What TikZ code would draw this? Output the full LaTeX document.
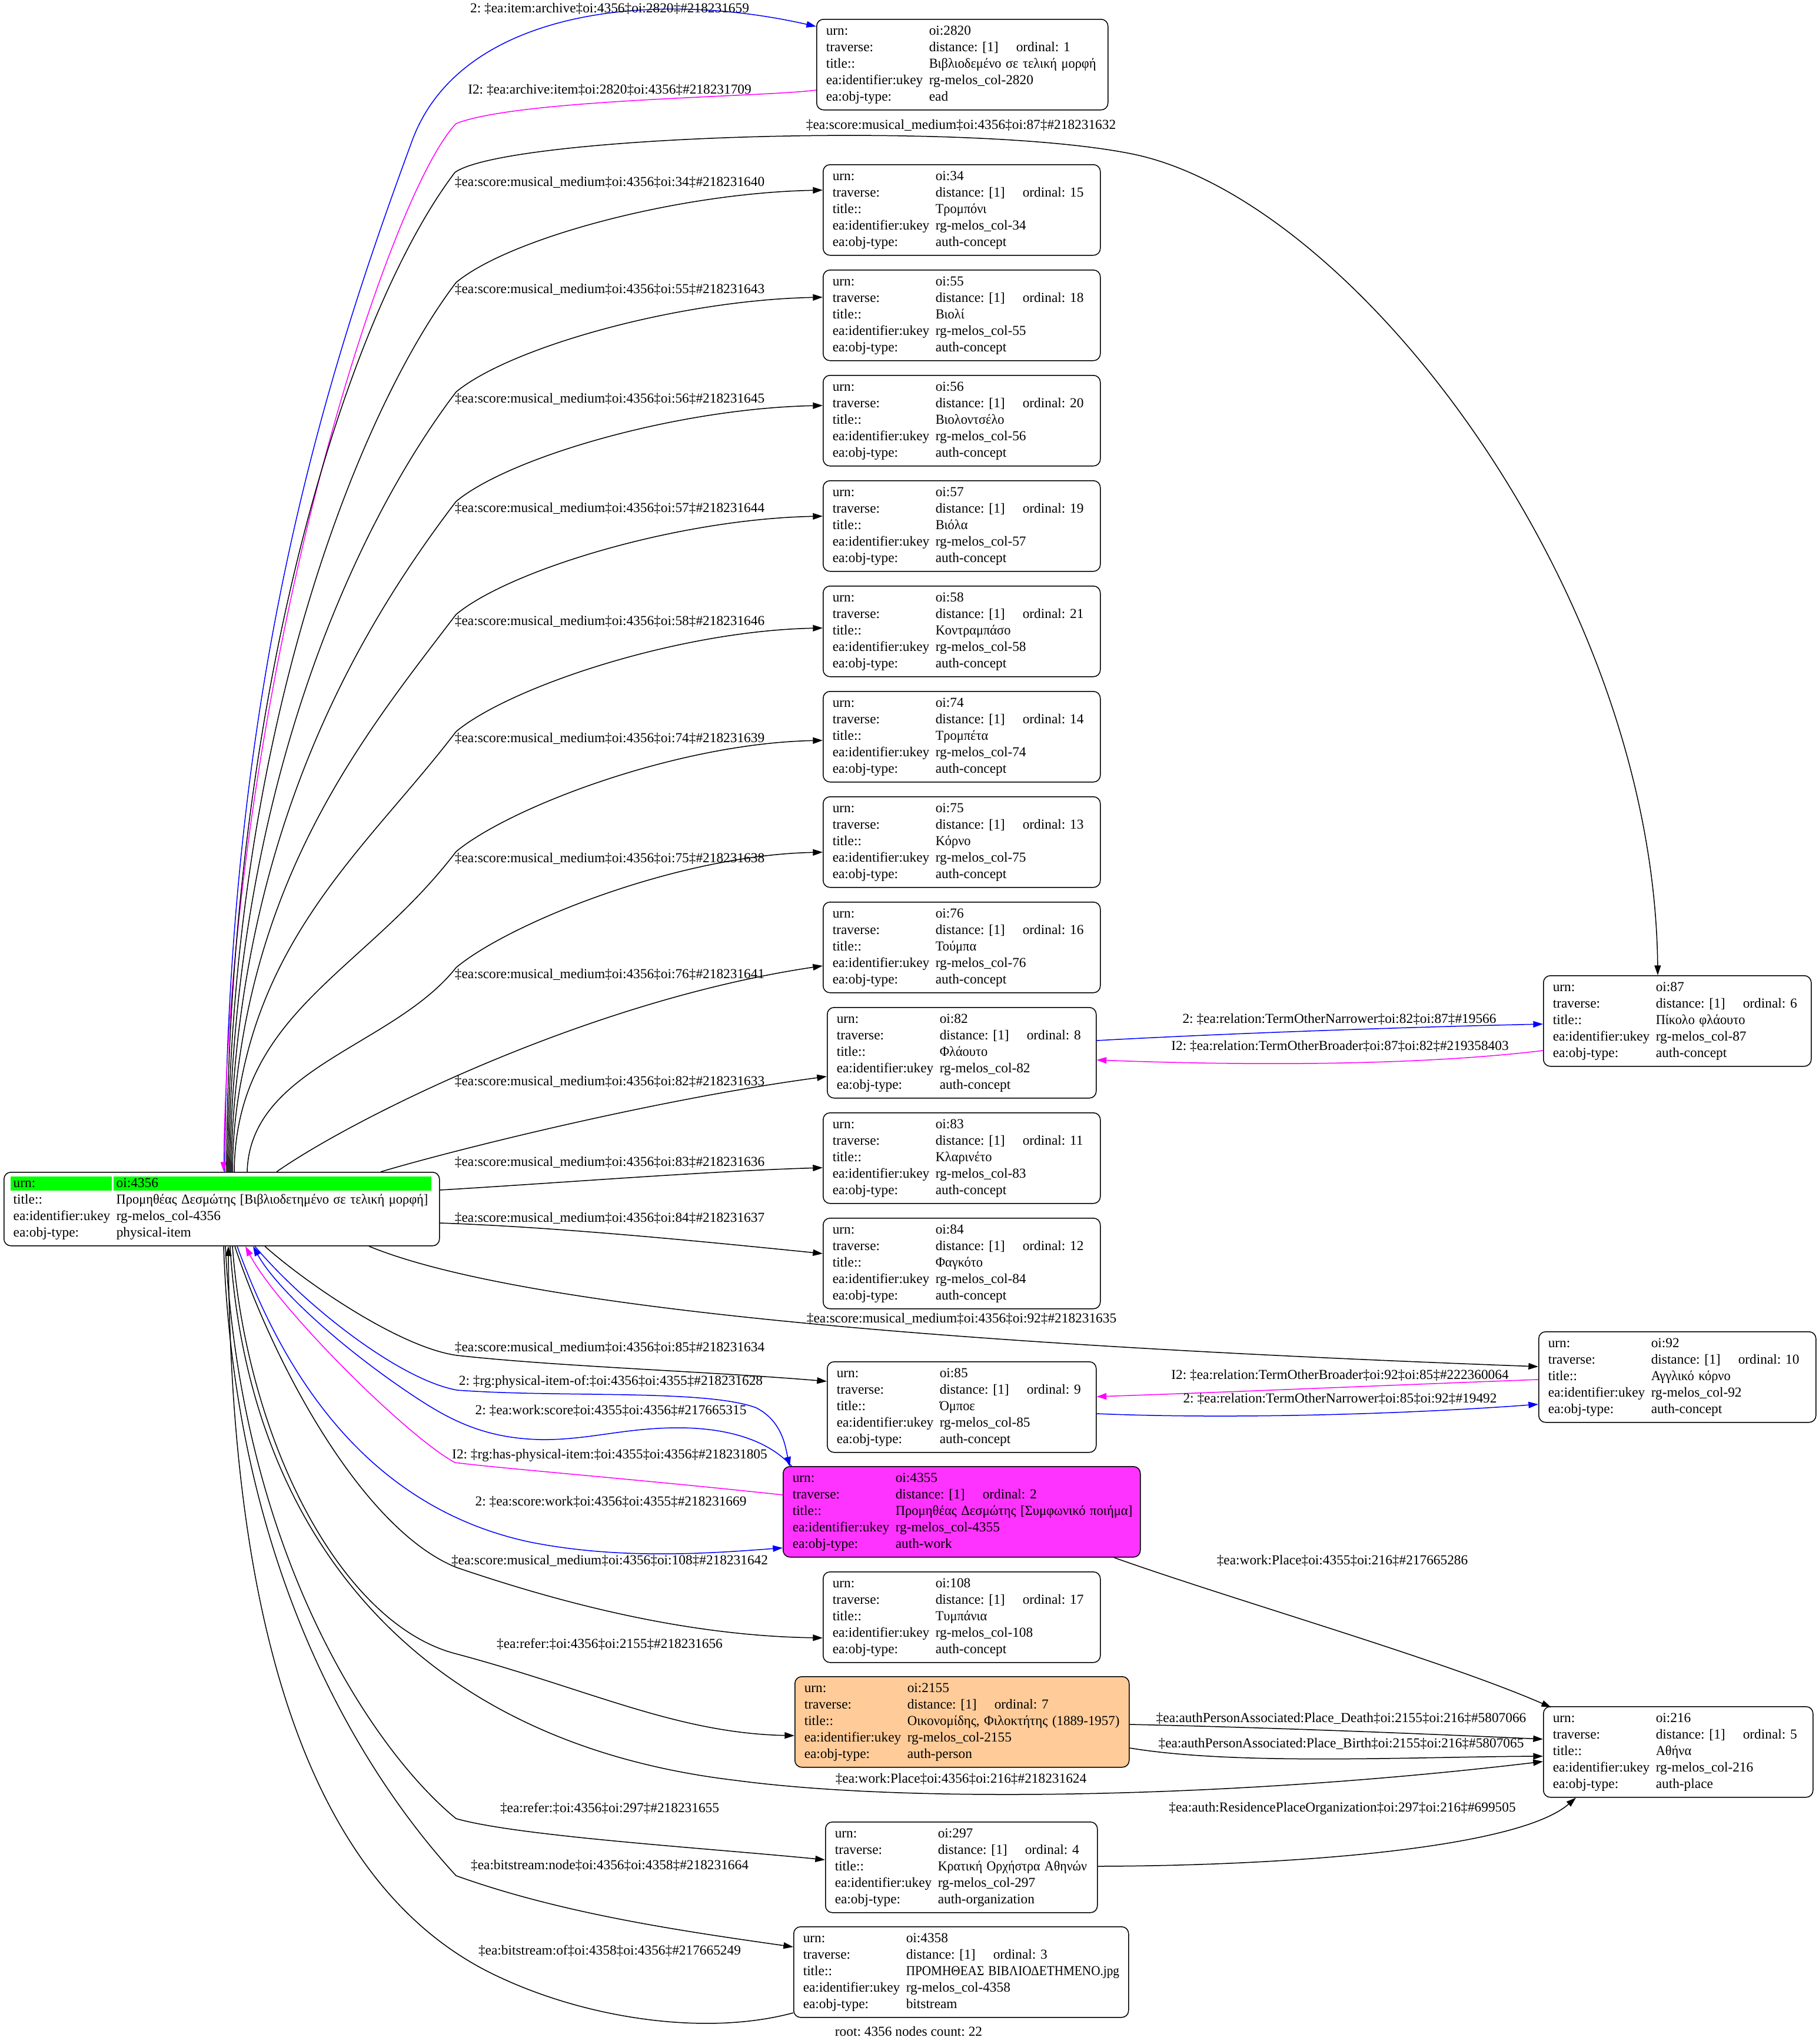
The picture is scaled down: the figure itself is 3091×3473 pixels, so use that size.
\documentclass[tikz,border=0pt]{standalone}
\usepackage{fontspec}
\usepackage{graphicx}
\setmainfont{Liberation Serif}
\usetikzlibrary{arrows.meta,calc}
\definecolor{workfill}{RGB}{255,51,255}
\definecolor{personfill}{RGB}{255,204,153}
\definecolor{mag}{RGB}{255,0,255}
\definecolor{blu}{RGB}{0,0,255}
\definecolor{grn}{RGB}{0,255,0}
\newcommand\gr[2][0.96]{\scalebox{#1}[1]{#2}}
\newcommand\cA[2]{\mbox{\makebox[105pt][l]{#1}#2}\strut}
\newcommand\objtext[4]{\cA{urn:}{oi:#1}\\\cA{traverse:}{\makebox[88.8pt][l]{distance: [1]}ordinal: #2}\\\cA{title::}{#3}\\\cA{ea:identifier:ukey}{rg-melos\_col-#1}\\\cA{ea:obj-type:}{#4}}
\tikzset{
 obj/.style={draw, line width=0.9pt, rounded corners=7pt, anchor=north west, inner xsep=9.6pt, inner ysep=4.2pt, align=left},
 lbl/.style={inner sep=0pt},
 edg/.style={line width=0.9pt, -{Triangle[length=10pt,width=6.5pt]}},
}
\begin{document}
\begin{tikzpicture}[x=0.6pt,y=-0.6pt,font=\fontsize{14}{16.8}\selectfont\frenchspacing]
\path[fill=white,use as bounding box] (0,0) rectangle (3091,3473);

% root green row
\fill[grn] (18,1999) rectangle (190,2023);
\fill[grn] (193,1999) rectangle (733,2023);
\node[obj,text width=424.8pt,inner ysep=3.9pt] (root) at (6,1991) {\cA{urn:}{oi:4356}\\\cA{title::}{\gr{Προμηθέας Δεσμώτης [Βιβλιοδετημένο σε τελική μορφή]}}\\\cA{ea:identifier:ukey}{rg-melos\_col-4356}\\\cA{ea:obj-type:}{physical-item}};

\node[obj,text width=277.8pt] (n2820) at (1387,32) {\objtext{2820}{1}{\gr{Βιβλιοδεμένο σε τελική μορφή}}{ead}};
\node[obj,text width=263.4pt] (n34) at (1398,279) {\objtext{34}{15}{\gr{Τρομπόνι}}{auth-concept}};
\node[obj,text width=263.4pt] (n55) at (1398,458) {\objtext{55}{18}{\gr{Βιολί}}{auth-concept}};
\node[obj,text width=263.4pt] (n56) at (1398,637) {\objtext{56}{20}{\gr{Βιολοντσέλο}}{auth-concept}};
\node[obj,text width=263.4pt] (n57) at (1398,816) {\objtext{57}{19}{\gr{Βιόλα}}{auth-concept}};
\node[obj,text width=263.4pt] (n58) at (1398,995) {\objtext{58}{21}{\gr{Κοντραμπάσο}}{auth-concept}};
\node[obj,text width=263.4pt] (n74) at (1398,1174) {\objtext{74}{14}{\gr{Τρομπέτα}}{auth-concept}};
\node[obj,text width=263.4pt] (n75) at (1398,1353) {\objtext{75}{13}{\gr{Κόρνο}}{auth-concept}};
\node[obj,text width=263.4pt] (n76) at (1398,1532) {\objtext{76}{16}{\gr{Τούμπα}}{auth-concept}};
\node[obj,text width=255pt] (n82) at (1405,1711) {\objtext{82}{8}{\gr{Φλάουτο}}{auth-concept}};
\node[obj,text width=263.4pt] (n83) at (1398,1890) {\objtext{83}{11}{\gr{Κλαρινέτο}}{auth-concept}};
\node[obj,text width=263.4pt] (n84) at (1398,2069) {\objtext{84}{12}{\gr{Φαγκότο}}{auth-concept}};
\node[obj,text width=255pt] (n85) at (1405,2313) {\objtext{85}{9}{\gr{Όμποε}}{auth-concept}};
\node[obj,text width=345pt,fill=workfill] (n4355) at (1330,2491) {\objtext{4355}{2}{\gr[0.97]{Προμηθέας Δεσμώτης [Συμφωνικό ποιήμα]}}{auth-work}};
\node[obj,text width=263.4pt] (n108) at (1398,2670) {\objtext{108}{17}{\gr{Τυμπάνια}}{auth-concept}};
\node[obj,text width=321.6pt,fill=personfill] (n2155) at (1350,2848) {\objtext{2155}{7}{\gr[0.98]{Οικονομίδης, Φιλοκτήτης (1889-1957)}}{auth-person}};
\node[obj,text width=258pt] (n297) at (1402,3095) {\objtext{297}{4}{\gr[0.94]{Κρατική Ορχήστρα Αθηνών}}{auth-organization}};
\node[obj,text width=322.2pt] (n4358) at (1348,3273) {\objtext{4358}{3}{\gr[0.91]{ΠΡΟΜΗΘΕΑΣ ΒΙΒΛΙΟΔΕΤΗΜΕΝΟ.jpg}}{bitstream}};
\node[obj,text width=253.8pt] (n87) at (2622,1657) {\objtext{87}{6}{\gr{Πίκολο φλάουτο}}{auth-concept}};
\node[obj,text width=263.4pt] (n92) at (2614,2262) {\objtext{92}{10}{\gr{Αγγλικό κόρνο}}{auth-concept}};
\node[obj,text width=255.6pt] (n216) at (2622,2899) {\objtext{216}{5}{\gr{Αθήνα}}{auth-place}};

% edges from root top
\draw[edg,blu] ($(root.north west)+(376,0)$) .. controls (386,1150) and (560,620) .. (700,240) .. controls (780,20) and (1100,-20) .. ($(n2820.north west)+(0,13)$);
\draw[edg,mag] ($(n2820.north west)+(0,121)$) .. controls (1300,165) and (880,168) .. (775,210) .. controls (660,330) and (392,1150) .. ($(root.north west)+(374,0)$);
\draw[edg] ($(root.north west)+(379,0)$) .. controls (388,1150) and (600,520) .. (773,293) .. controls (860,230) and (1650,205) .. (1926,262) .. controls (2300,340) and (2810,1000) .. ($(n87.north west)+(195,0)$);
\draw[edg] ($(root.north west)+(381,0)$) .. controls (390,1236) and (615,690) .. (775,480) .. controls (865,405) and (1150,328) .. ($(n34.north west)+(0,44)$);
\draw[edg] ($(root.north west)+(383,0)$) .. controls (392,1329) and (615,876) .. (775,666) .. controls (865,591) and (1150,510) .. ($(n55.north west)+(0,47)$);
\draw[edg] ($(root.north west)+(385,0)$) .. controls (394,1422) and (615,1062) .. (775,852) .. controls (865,777) and (1150,694) .. ($(n56.north west)+(0,52)$);
\draw[edg] ($(root.north west)+(387,0)$) .. controls (396,1518) and (615,1254) .. (775,1044) .. controls (865,969) and (1150,882) .. ($(n57.north west)+(0,61)$);
\draw[edg] ($(root.north west)+(389,0)$) .. controls (398,1617) and (615,1453) .. (775,1243) .. controls (865,1168) and (1150,1072) .. ($(n58.north west)+(0,72)$);
\draw[edg] ($(root.north west)+(392,0)$) .. controls (401,1719) and (615,1657) .. (775,1447) .. controls (865,1372) and (1150,1263) .. ($(n74.north west)+(0,84)$);
\draw[edg] ($(root.north west)+(414,0)$) .. controls (425,1813) and (669,1778) .. (775,1644) .. controls (865,1569) and (1150,1453) .. ($(n75.north west)+(0,95)$);
\draw[edg] ($(root.north west)+(464,0)$) .. controls (600,1900) and (1000,1700) .. ($(n76.north west)+(0,109)$);
\draw[edg] ($(root.north west)+(641,0)$) .. controls (750,1960) and (1100,1870) .. ($(n82.north west)+(0,118)$);
\draw[edg] ($(root.north east)+(0,31)$) .. controls (950,2010) and (1200,1990) .. ($(n83.north west)+(0,94)$);
\draw[edg] ($(root.north east)+(0,87)$) .. controls (950,2085) and (1200,2110) .. ($(n84.north west)+(0,61)$);
% edges from root bottom
\draw[edg] ($(root.south west)+(621,0)$) .. controls (900,2230) and (1700,2288) .. ($(n92.north west)+(0,60)$);
\draw[edg] ($(root.south west)+(444,0)$) .. controls (520,2180) and (680,2290) .. (777,2303) .. controls (950,2322) and (1200,2330) .. ($(n85.north west)+(0,34)$);
\draw[edg,blu] ($(root.south west)+(427,0)$) .. controls (520,2220) and (680,2345) .. (777,2362) .. controls (950,2375) and (1200,2360) .. (1285,2392) .. controls (1330,2415) and (1335,2460) .. ($(n4355.north west)+(12,1)$);
\draw[edg,blu] ($(n4355.north west)+(16,1)$) .. controls (1300,2440) and (1220,2426) .. (1153,2426) .. controls (1060,2426) and (1000,2447) .. (919,2446) .. controls (820,2444) and (760,2410) .. (700,2370) .. controls (580,2290) and (470,2190) .. ($(root.south west)+(424,0)$);
\draw[edg,mag] ($(n4355.north west)+(0,49)$) .. controls (1100,2515) and (850,2495) .. (773,2485) .. controls (690,2440) and (470,2220) .. ($(root.south west)+(411,0)$);
\draw[edg,blu] ($(root.south west)+(397,0)$) .. controls (480,2330) and (620,2560) .. (900,2620) .. controls (1050,2650) and (1200,2640) .. ($(n4355.north west)+(0,139)$);
\draw[edg] ($(root.south west)+(393,0)$) .. controls (470,2330) and (620,2600) .. (775,2663) .. controls (1000,2740) and (1200,2780) .. ($(n108.north west)+(0,113)$);
\draw[edg] ($(root.south west)+(389,0)$) .. controls (420,2450) and (580,2760) .. (775,2810) .. controls (1000,2870) and (1150,2945) .. ($(n2155.north west)+(0,101)$);
\draw[edg] ($(root.south west)+(385,0)$) .. controls (420,2600) and (700,2960) .. (1250,3025) .. controls (1550,3065) and (2100,3055) .. ($(n216.north west)+(0,94)$);
\draw[edg] ($(root.south west)+(377,0)$) .. controls (410,2650) and (640,2980) .. (775,3090) .. controls (880,3120) and (1200,3140) .. ($(n297.north west)+(0,65)$);
\draw[edg] ($(root.south west)+(374,0)$) .. controls (400,2700) and (640,3040) .. (775,3187) .. controls (950,3250) and (1150,3280) .. ($(n4358.north west)+(0,35)$);
\draw[edg] ($(n4358.north west)+(0,147)$) .. controls (1200,3460) and (1000,3430) .. (850,3360) .. controls (500,3200) and (392,2700) .. ($(root.south west)+(382,0)$);
% right side edges
\draw[edg] ($(n4355.south west)+(563,0)$) .. controls (2100,2720) and (2450,2820) .. ($(n216.north west)+(14,2)$);
\draw[edg] ($(n2155.north east)+(0,82)$) .. controls (2150,2935) and (2400,2945) .. ($(n216.north west)+(0,56)$);
\draw[edg] ($(n2155.north east)+(0,122)$) .. controls (2100,3000) and (2400,2985) .. ($(n216.north west)+(0,85)$);
\draw[edg] ($(n297.north east)+(0,76)$) .. controls (2200,3170) and (2580,3140) .. ($(n216.south west)+(56,0)$);
\draw[edg,blu] ($(n82.north east)+(0,57)$) .. controls (2100,1755) and (2400,1745) .. ($(n87.north west)+(0,83)$);
\draw[edg,mag] ($(n87.north west)+(0,128)$) .. controls (2400,1812) and (2100,1810) .. ($(n82.north east)+(0,90)$);
\draw[edg,mag] ($(n92.north west)+(0,82)$) .. controls (2400,2352) and (2100,2365) .. ($(n85.north east)+(0,60)$);
\draw[edg,blu] ($(n85.north east)+(0,89)$) .. controls (2100,2412) and (2400,2402) .. ($(n92.north west)+(0,124)$);

% labels
\node[lbl] (l2820a) at (1036,15) {2: ‡ea:item:archive‡oi:4356‡oi:2820‡\#218231659};
\node[lbl] (l2820b) at (1036,153) {I2: ‡ea:archive:item‡oi:2820‡oi:4356‡\#218231709};
\node[lbl] (l87) at (1633,213) {‡ea:score:musical\_medium‡oi:4356‡oi:87‡\#218231632};
\node[lbl] (l34) at (1036,310) {‡ea:score:musical\_medium‡oi:4356‡oi:34‡\#218231640};
\node[lbl] (l55) at (1036,492) {‡ea:score:musical\_medium‡oi:4356‡oi:55‡\#218231643};
\node[lbl] (l56) at (1036,678) {‡ea:score:musical\_medium‡oi:4356‡oi:56‡\#218231645};
\node[lbl] (l57) at (1036,864) {‡ea:score:musical\_medium‡oi:4356‡oi:57‡\#218231644};
\node[lbl] (l58) at (1036,1056) {‡ea:score:musical\_medium‡oi:4356‡oi:58‡\#218231646};
\node[lbl] (l74) at (1036,1255) {‡ea:score:musical\_medium‡oi:4356‡oi:74‡\#218231639};
\node[lbl] (l75) at (1036,1459) {‡ea:score:musical\_medium‡oi:4356‡oi:75‡\#218231638};
\node[lbl] (l76) at (1036,1656) {‡ea:score:musical\_medium‡oi:4356‡oi:76‡\#218231641};
\node[lbl] (l82) at (1036,1838) {‡ea:score:musical\_medium‡oi:4356‡oi:82‡\#218231633};
\node[lbl] (l83) at (1036,1975) {‡ea:score:musical\_medium‡oi:4356‡oi:83‡\#218231636};
\node[lbl] (l84) at (1036,2070) {‡ea:score:musical\_medium‡oi:4356‡oi:84‡\#218231637};
\node[lbl] (l92) at (1634,2241) {‡ea:score:musical\_medium‡oi:4356‡oi:92‡\#218231635};
\node[lbl] (l85) at (1036,2290) {‡ea:score:musical\_medium‡oi:4356‡oi:85‡\#218231634};
\node[lbl] (lpio) at (1038,2348) {2: ‡rg:physical-item-of:‡oi:4356‡oi:4355‡\#218231628};
\node[lbl] (lws) at (1038,2397) {2: ‡ea:work:score‡oi:4355‡oi:4356‡\#217665315};
\node[lbl] (lhpi) at (1036,2473) {I2: ‡rg:has-physical-item:‡oi:4355‡oi:4356‡\#218231805};
\node[lbl] (lsw) at (1038,2552) {2: ‡ea:score:work‡oi:4356‡oi:4355‡\#218231669};
\node[lbl] (l108) at (1036,2652) {‡ea:score:musical\_medium‡oi:4356‡oi:108‡\#218231642};
\node[lbl] (l2155) at (1036,2794) {‡ea:refer:‡oi:4356‡oi:2155‡\#218231656};
\node[lbl] (lwp) at (1633,3023) {‡ea:work:Place‡oi:4356‡oi:216‡\#218231624};
\node[lbl] (l297) at (1036,3073) {‡ea:refer:‡oi:4356‡oi:297‡\#218231655};
\node[lbl] (lbsn) at (1036,3170) {‡ea:bitstream:node‡oi:4356‡oi:4358‡\#218231664};
\node[lbl] (lbso) at (1036,3315) {‡ea:bitstream:of‡oi:4358‡oi:4356‡\#217665249};
\node[lbl] (lwp2) at (2281,2652) {‡ea:work:Place‡oi:4355‡oi:216‡\#217665286};
\node[lbl] (ldeath) at (2279,2920) {‡ea:authPersonAssociated:Place\_Death‡oi:2155‡oi:216‡\#5807066};
\node[lbl] (lbirth) at (2279,2963) {‡ea:authPersonAssociated:Place\_Birth‡oi:2155‡oi:216‡\#5807065};
\node[lbl] (lres) at (2281,3073) {‡ea:auth:ResidencePlaceOrganization‡oi:297‡oi:216‡\#699505};
\node[lbl] (lnar1) at (2276,1732) {2: ‡ea:relation:TermOtherNarrower‡oi:82‡oi:87‡\#19566};
\node[lbl] (lbro1) at (2277,1778) {I2: ‡ea:relation:TermOtherBroader‡oi:87‡oi:82‡\#219358403};
\node[lbl] (lbro2) at (2277,2337) {I2: ‡ea:relation:TermOtherBroader‡oi:92‡oi:85‡\#222360064};
\node[lbl] (lnar2) at (2277,2377) {2: ‡ea:relation:TermOtherNarrower‡oi:85‡oi:92‡\#19492};
\node[lbl] (foot) at (1544,3452) {root: 4356 nodes count: 22};
\end{tikzpicture}
\end{document}
